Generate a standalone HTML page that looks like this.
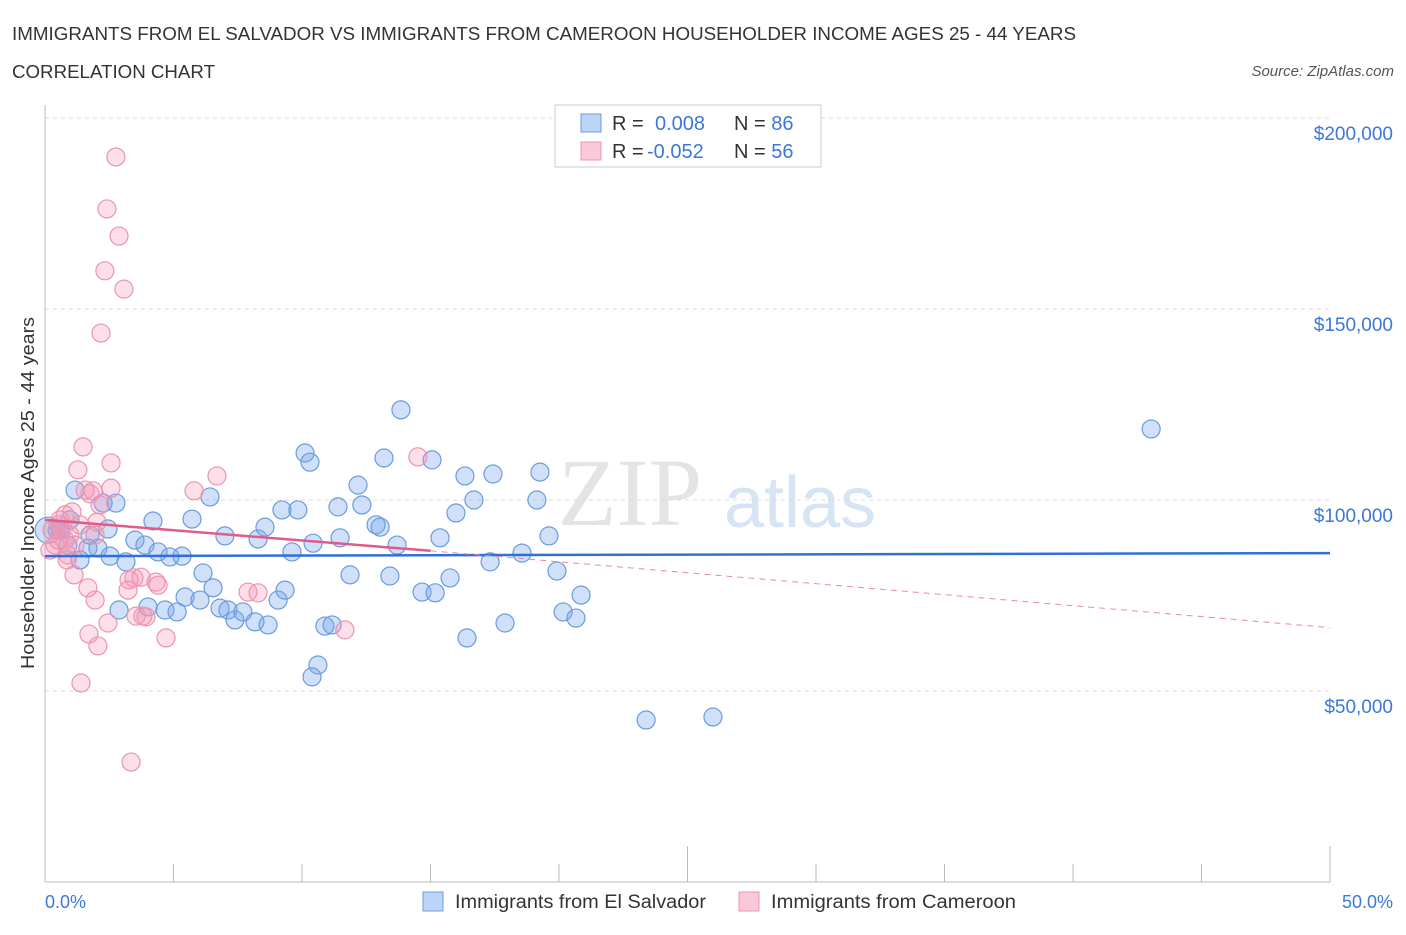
<!DOCTYPE html>
<html><head><meta charset="utf-8"><style>
body{margin:0;background:#fff;font-family:"Liberation Sans",sans-serif;}
</style></head><body>
<svg width="1406" height="930" xmlns="http://www.w3.org/2000/svg" style="font-family:'Liberation Sans',sans-serif">
<text x="12" y="40" font-size="18" fill="#333" textLength="1064" lengthAdjust="spacingAndGlyphs">IMMIGRANTS FROM EL SALVADOR VS IMMIGRANTS FROM CAMEROON HOUSEHOLDER INCOME AGES 25 - 44 YEARS</text>
<text x="12" y="78" font-size="18" fill="#333" textLength="203" lengthAdjust="spacingAndGlyphs">CORRELATION CHART</text>
<text x="1394" y="76" font-size="15" fill="#555" font-style="italic" text-anchor="end">Source: ZipAtlas.com</text>
<text x="630" y="525" font-size="96" fill="#e4e4e4" font-family="Liberation Serif" text-anchor="middle">ZIP</text>
<text x="800" y="527" font-size="72" fill="#d6e4f4" text-anchor="middle">atlas</text>
<g id="grid"></g>
<g id="axes"></g>
<g id="marks"></g>
<text transform="translate(34,493) rotate(-90)" font-size="18" fill="#333" text-anchor="middle" textLength="352" lengthAdjust="spacingAndGlyphs">Householder Income Ages 25 - 44 years</text>
<text x="45" y="908" font-size="18" fill="#3b78d8">0.0%</text>
<text x="1393" y="908" font-size="18" fill="#3b78d8" text-anchor="end">50.0%</text>
<g>
<rect x="555" y="105" width="266" height="62" fill="#fff" stroke="#ccc"/>
<rect x="581" y="114" width="20" height="18" fill="#bcd4f6" stroke="#6a9be0"/>
<rect x="581" y="142" width="20" height="18" fill="#f9c9d8" stroke="#ea95b0"/>
<text x="612" y="130" font-size="20" fill="#333">R = <tspan fill="#3b78d8" x="655">0.008</tspan><tspan x="734" fill="#333">N = </tspan><tspan fill="#3b78d8">86</tspan></text>
<text x="612" y="158" font-size="20" fill="#333">R = <tspan fill="#3b78d8" x="647">-0.052</tspan><tspan x="734" fill="#333">N = </tspan><tspan fill="#3b78d8">56</tspan></text>
</g>
<g>
<rect x="423" y="892" width="20" height="19" fill="#bcd4f6" stroke="#6a9be0"/>
<text x="455" y="908" font-size="19" fill="#333" textLength="251" lengthAdjust="spacingAndGlyphs">Immigrants from El Salvador</text>
<rect x="739" y="892" width="20" height="19" fill="#f9c9d8" stroke="#ea95b0"/>
<text x="771" y="908" font-size="19" fill="#333" textLength="245" lengthAdjust="spacingAndGlyphs">Immigrants from Cameroon</text>
</g>
</svg>
<script>
const yTicks=[200000,150000,100000,50000];
const yTickLabels=["$200,000","$150,000","$100,000","$50,000"];
const xTicks=[0,5,10,15,20,25,30,35,40,45,50];
const blueX=[1.17,2.26,2.76,0.97,0.58,1.67,2.06,2.53,1.36,3.15,3.50,3.89,4.20,4.40,4.86,5.33,5.72,6.42,7.00,6.15,5.45,4.67,5.14,6.03,6.54,6.81,7.12,7.39,7.70,8.17,8.68,8.29,8.56,9.07,9.34,9.61,9.22,9.84,10.12,10.31,10.43,10.89,11.17,10.62,10.39,11.48,11.87,12.18,12.33,12.88,13.04,11.40,13.19,13.42,13.70,13.85,14.67,15.06,15.18,15.37,15.76,15.99,16.34,16.42,16.69,17.32,17.43,17.90,18.56,19.14,19.26,19.61,19.92,20.16,20.66,20.86,23.39,25.99,43.04,2.88,2.45,0.89,1.75,0.47,0.12,4.01];
const blueY=[102.6,99.2,99.2,94.8,92.1,87.4,87.4,85.3,84.3,83.8,89.5,88.2,94.5,86.4,85.1,85.3,95.0,100.8,90.6,80.9,74.6,71.2,70.7,73.8,77.0,71.7,71.2,68.6,70.7,68.1,67.3,89.8,92.9,73.8,76.4,86.4,97.4,97.4,112.3,109.9,88.7,67.0,67.3,56.8,53.7,90.1,80.4,103.9,98.7,93.5,92.9,98.2,111.0,80.1,88.2,123.6,75.9,110.5,75.7,90.1,79.6,96.6,106.3,63.9,100.0,83.8,106.8,67.8,86.1,100.0,107.3,90.6,81.4,70.7,69.1,75.1,42.4,43.2,118.6,71.2,92.4,88.2,90.8,92.1,92.1,72.0];
const pinkX=[2.76,2.41,2.88,2.33,3.07,2.18,1.48,1.28,2.57,1.87,1.75,2.57,1.05,2.02,0.51,0.78,0.89,1.13,1.67,1.95,1.71,2.06,2.45,1.40,3.35,5.80,6.69,14.51,3.46,3.27,3.23,3.74,4.32,4.40,3.54,3.81,3.93,4.71,7.90,8.29,11.67,0.66,0.39,0.19,0.97,1.17,0.58,1.56,2.14,0.86,0.27,1.36,1.95,0.78,0.51];
const pinkY=[189.8,176.2,169.1,160.0,155.2,143.7,113.9,107.9,109.7,102.4,101.6,103.1,96.9,94.2,93.5,89.5,85.6,80.4,77.0,73.8,64.9,61.8,67.8,52.1,31.4,102.4,106.3,111.3,79.6,79.1,76.4,79.8,78.5,77.7,69.6,69.6,69.4,63.9,75.9,75.7,66.0,92.1,88.2,86.9,90.8,88.2,94.8,102.6,98.7,84.3,92.1,93.5,90.8,96.1,89.5];
const blueTrend=[85.3,86.1];
const pinkTrend=[94.8,86.7,66.6];
const NS="http://www.w3.org/2000/svg";
const xS=v=>45+v*25.7;
const yS=k=>500-(k-100)*191/50;
function mk(t,a,p){const e=document.createElementNS(NS,t);for(const k in a)e.setAttribute(k,a[k]);p.appendChild(e);return e;}
const grid=document.getElementById('grid'),axes=document.getElementById('axes'),marks=document.getElementById('marks');
yTicks.forEach((v,i)=>{const y=yS(v/1000);
const l=mk('line',{x1:45,x2:1330,y1:y,y2:y,stroke:'#ddd','stroke-dasharray':'4,4'},grid);


const t=mk('text',{x:1393,y:y+22,'font-size':19,fill:'#3b78d8','text-anchor':'end'},grid);t.textContent=yTickLabels[i];

});
const ax=mk('line',{x1:45,x2:1330,y1:882,y2:882,stroke:'#bbb'},axes);


const ay=mk('line',{x1:45,x2:45,y1:105,y2:882,stroke:'#bbb'},axes);


xTicks.forEach(v=>{const x=xS(v);const t=mk('line',{x1:x,x2:x,y1:v%25==0?846:864,y2:882,stroke:'#bbb'},axes);

});
blueX.forEach((v,i)=>{const c=mk('circle',{cx:xS(v),cy:yS(blueY[i]),r:i==blueX.length-2?13:9,fill:'rgba(120,165,235,0.35)',stroke:'#6a9be0','stroke-width':1.2},marks);

});
pinkX.forEach((v,i)=>{const c=mk('circle',{cx:xS(v),cy:yS(pinkY[i]),r:9,fill:'rgba(245,150,180,0.3)',stroke:'#ea95b0','stroke-width':1.2},marks);

});
const bt=mk('line',{x1:xS(0),x2:xS(50),y1:yS(blueTrend[0]),y2:yS(blueTrend[1]),stroke:'#2f6fd6','stroke-width':2.5},marks);


const pt=mk('line',{x1:xS(0),x2:xS(15),y1:yS(pinkTrend[0]),y2:yS(pinkTrend[1]),stroke:'#e05a8a','stroke-width':2.5},marks);


const pd=mk('line',{x1:xS(15),x2:xS(50),y1:yS(pinkTrend[1]),y2:yS(pinkTrend[2]),stroke:'#e88aa8','stroke-width':1,'stroke-dasharray':'6,5'},marks);


</script>
</body></html>
